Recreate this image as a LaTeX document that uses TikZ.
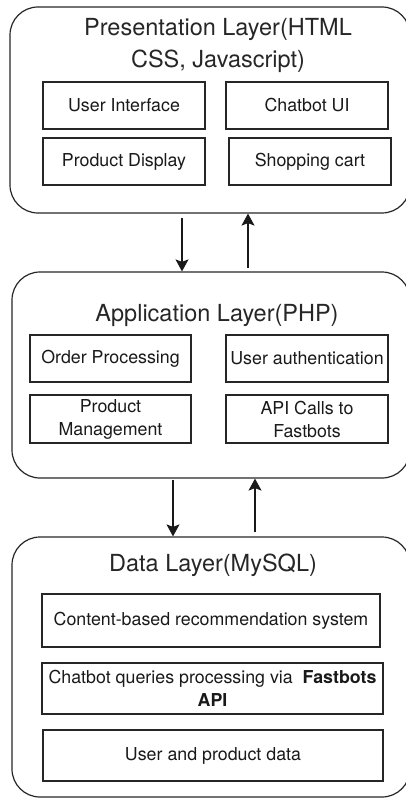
\documentclass[tikz,border=0pt]{standalone}
\usepackage{fontspec}
\setmainfont{TeX Gyre Heros}
\usetikzlibrary{arrows.meta}

\tikzset{
  layer/.style={draw=black!85, line width=1.2pt, rounded corners=28pt, inner sep=0pt},
  part/.style={draw=black!85, line width=1.2pt, inner sep=0pt, align=center,
               text=black!90, font=\fontsize{17.8}{23}\selectfont},
  heading/.style={align=center, text=black!85, inner sep=0pt,
                  font=\fontsize{23.5}{31.5}\selectfont},
  flow/.style={line width=1.2pt, draw=black!90,
               -{Stealth[length=12pt, width=13pt, inset=2.5pt]}}
}

\begin{document}
\begin{tikzpicture}[x=1pt, y=-1pt]
\useasboundingbox (0,0) rectangle (406,799);
\clip (0,0) rectangle (406,799);

% three layers (right edges run past the page)
\node[layer, minimum width=400pt, minimum height=206pt] (pres) at (210,110) {};
\node[layer, minimum width=398pt, minimum height=206pt] (app)  at (211,375) {};
\node[layer, minimum width=398pt, minimum height=260pt] (data) at (211,667) {};

% layer headings
\node[heading] (ptitle) at (218,45.5)  {Presentation Layer(HTML\\CSS, Javascript)};
\node[heading] (atitle) at (217,315) {Application Layer(PHP)};
\node[heading] (dtitle) at (213,565) {Data Layer(MySQL)};

% presentation layer parts
\node[part, minimum width=162pt, minimum height=47pt] (ui)    at (124,105.5) {User Interface};
\node[part, minimum width=162pt, minimum height=47pt] (chat)  at (307,105.5) {Chatbot UI};
\node[part, minimum width=162pt, minimum height=47pt] (disp)  at (124,161.5) {Product Display};
\node[part, minimum width=162pt, minimum height=47pt] (cart)  at (310,161.5) {Shopping cart};

% application layer parts
\node[part, minimum width=161pt, minimum height=47pt] (order) at (110.5,358.5) {Order Processing};
\node[part, minimum width=162pt, minimum height=47pt] (auth)  at (307,358.5) {User authentication};
\node[part, minimum width=161pt, minimum height=48pt] (pmgmt) at (110.5,419) {Product\\Management};
\node[part, minimum width=162pt, minimum height=48pt] (api)   at (307,419) {API Calls to\\Fastbots};

% data layer parts
\node[part, minimum width=338pt, minimum height=53pt] (rec)   at (211,620.5) {Content-based recommendation system};
\node[part, minimum width=341pt, minimum height=51pt] (query) at (212.5,688.5) {Chatbot queries processing via \ \textbf{Fastbots}\\\textbf{API}};
\node[part, minimum width=340pt, minimum height=51pt] (udata) at (213,755.5) {User and product data};

% request / response arrows between layers
\coordinate (d1) at (182,0);
\coordinate (u1) at (248,0);
\coordinate (d2) at (173,0);
\coordinate (u2) at (255,0);
\draw[flow, shorten <=4pt] (pres.south -| d1) -- (app.north -| d1);
\draw[flow, shorten <=3pt] (app.north -| u1) -- (pres.south -| u1);
\draw[flow, shorten <=1pt] (app.south -| d2) -- (data.north -| d2);
\draw[flow, shorten <=4pt] (data.north -| u2) -- (app.south -| u2);
\end{tikzpicture}
\end{document}
